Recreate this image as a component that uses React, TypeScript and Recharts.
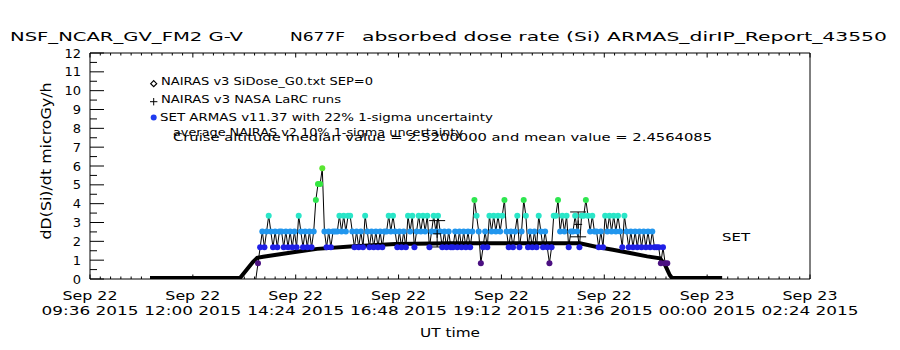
import React from 'react';
import { ComposedChart, Line, Scatter, ErrorBar, XAxis, YAxis, ReferenceArea } from 'recharts';

// x axis: UT hours since Sep 22 00:00
const majorTimes = [9.6, 12, 14.4, 16.8, 19.2, 21.6, 24, 26.4];
const dayLabels = ['Sep 22', 'Sep 22', 'Sep 22', 'Sep 22', 'Sep 22', 'Sep 22', 'Sep 23', 'Sep 23'];
const clockLabels = ['09:36 2015', '12:00 2015', '14:24 2015', '16:48 2015', '19:12 2015', '21:36 2015', '00:00 2015', '02:24 2015'];
const doseLabels = [0, 1, 2, 3, 4, 5, 6, 7, 8, 9, 10, 11, 12];

// NAIRAS v3 model along the flight track
const nairasTime = [11.0, 13.1, 13.26, 13.4, 13.5, 13.64, 14.34, 14.9, 15.67, 16.72, 18.0, 19.98, 21.03, 21.43, 21.8, 22.2, 22.6, 22.9, 23.02, 23.13, 23.18, 24.35];
const nairasDose = [0.05, 0.05, 0.5, 0.9, 1.12, 1.18, 1.42, 1.6, 1.72, 1.86, 1.9, 1.9, 1.9, 1.7, 1.55, 1.38, 1.2, 1.1, 0.74, 0.2, 0.05, 0.05];

// ARMAS SET measurements, one sample every 3 minutes
const armasStart = 13.47;
const armasStep = 0.05;
const armasDose = [
  0.0, 0.84, 1.68, 2.52, 1.68, 2.52, 3.36, 2.52, 1.68, 2.52, 1.68, 2.52, 2.52, 1.68, 2.52, 1.68,
  2.52, 1.68, 2.52, 1.68, 3.36, 2.52, 1.68, 2.52, 1.68, 2.52, 1.68, 2.52, 4.2, 5.04, 5.04, 5.88,
  2.52, 1.68, 2.52, 1.68, 2.52, 2.52, 2.52, 3.36, 2.52, 3.36, 2.52, 3.36, 3.36, 2.52, 1.68, 2.52,
  1.68, 2.52, 1.68, 3.36, 2.52, 1.68, 2.52, 1.68, 2.52, 1.68, 2.52, 1.68, 2.52, 2.52, 3.36, 2.52,
  3.36, 2.52, 1.68, 2.52, 1.68, 2.52, 1.68, 3.36, 2.52, 3.36, 1.68, 2.52, 3.36, 2.52, 3.36, 2.52,
  3.36, 1.68, 2.52, 3.36, 2.52, 3.36, 2.52, 1.68, 2.52, 1.68, 2.52, 1.68, 1.68, 2.52, 1.68, 2.52,
  1.68, 2.52, 1.68, 2.52, 1.68, 2.52, 4.2, 3.36, 2.52, 0.84, 1.68, 2.52, 1.68, 3.36, 2.52, 3.36,
  2.52, 3.36, 2.52, 3.36, 4.2, 2.52, 1.68, 2.52, 1.68, 2.52, 3.36, 1.68, 2.52, 4.2, 3.36, 1.68,
  2.52, 1.68, 2.52, 1.68, 3.36, 2.52, 1.68, 2.52, 1.68, 0.84, 1.68, 3.36, 3.36, 4.2, 2.52, 3.36,
  2.52, 3.36, 1.68, 2.52, 2.52, 3.36, 2.52, 1.68, 3.36, 3.36, 4.2, 3.36, 2.52, 3.36, 2.52, 2.52,
  1.68, 2.52, 1.68, 3.36, 2.52, 3.36, 2.52, 3.36, 2.52, 3.36, 2.52, 1.68, 3.36, 2.52, 1.68, 2.52,
  1.68, 2.52, 1.68, 2.52, 1.68, 2.52, 1.68, 2.52, 1.68, 2.52, 1.68, 1.68, 1.68, 0.84, 1.68, 0.84,
  0.84,
];

// NAIRAS v3 NASA LaRC runs
const larcTime = [17.7, 20.99];
const larcDose = [2.4, 2.9];
const larcErr = [0.7, 0.66];

const levelValues = [0.84, 1.68, 2.52, 3.36, 4.2, 5.04, 5.88];
const levelColors = ['#4b1082', '#1f1fe6', '#2196ee', '#2ae6c8', '#2ee650', '#34e640', '#5ae632'];

const PLOT = { left: 90, right: 810, top: 53, bottom: 279 };
const FONT = 'DejaVu Sans, sans-serif';

const xTicks: number[] = [];
majorTimes.forEach((t, i) => {
  xTicks.push(t);
  if (i < majorTimes.length - 1) {
    for (let k = 1; k < 10; k++) xTicks.push(Math.round((t + (k * (majorTimes[i + 1] - t)) / 10) * 1000) / 1000);
  }
});
const yTicks: number[] = [];
doseLabels.forEach((d, i) => {
  yTicks.push(d);
  if (i < doseLabels.length - 1) yTicks.push(d + 0.5);
});

const nairasData = nairasTime.map((t, i) => ({ time: t, dose: nairasDose[i] }));
const armasData = armasDose.map((d, i) => ({ time: Math.round((armasStart + i * armasStep) * 1000) / 1000, dose: d }));
const larcData = larcTime.map((t, i) => ({ time: t, dose: larcDose[i], err: larcErr[i] }));

function colorFor(v: number) {
  let best = 0;
  levelValues.forEach((l, i) => {
    if (Math.abs(l - v) < Math.abs(levelValues[best] - v)) best = i;
  });
  return levelColors[best];
}

function XTick(props: any) {
  const { x, payload } = props;
  const idx = majorTimes.findIndex((t) => Math.abs(t - payload.value) < 1e-6);
  const len = idx >= 0 ? 4.5 : 2.5;
  return (
    <g>
      <line x1={x} x2={x} y1={PLOT.bottom} y2={PLOT.bottom - len} stroke="#000" />
      <line x1={x} x2={x} y1={PLOT.top} y2={PLOT.top + len} stroke="#000" />
      {idx >= 0 && (
        <g fontFamily={FONT} fontSize={13} fill="#000">
          <text x={x} y={300} textAnchor="middle" textLength={55} lengthAdjust="spacingAndGlyphs">{dayLabels[idx]}</text>
          <text x={x} y={315} textAnchor="middle" textLength={97} lengthAdjust="spacingAndGlyphs">{clockLabels[idx]}</text>
        </g>
      )}
    </g>
  );
}

function YTick(props: any) {
  const { y, payload } = props;
  const major = Number.isInteger(payload.value);
  return (
    <g>
      <line x1={PLOT.left} x2={PLOT.left + (major ? 14 : 7)} y1={y} y2={y} stroke="#000" />
      {major && (
        <text x={81} y={y + 4.5} textAnchor="end" fontFamily={FONT} fontSize={13} fill="#000">{payload.value}</text>
      )}
    </g>
  );
}

function ArmasDot(props: any) {
  const { cx, cy, payload, index } = props;
  if (payload.dose <= 0) return <g key={`a${index}`} />;
  return <circle key={`a${index}`} cx={cx} cy={cy} r={3} fill={colorFor(payload.dose)} stroke="none" />;
}

function PlusShape(props: any) {
  const { cx, cy } = props;
  return <path d={`M${cx - 4},${cy}H${cx + 4}M${cx},${cy - 4}V${cy + 4}`} stroke="#000" strokeWidth={1} />;
}

export default function App() {
  return (
    <div style={{ position: 'absolute', left: 0, top: 0, width: 900, height: 350, background: '#fff' }}>
      <ComposedChart width={900} height={350} margin={{ top: PLOT.top, right: 900 - PLOT.right, bottom: 0, left: 0 }}>
        <XAxis
          dataKey="time"
          type="number"
          domain={[9.6, 26.4]}
          ticks={xTicks}
          interval={0}
          allowDataOverflow
          axisLine={false}
          tickLine={false}
          height={350 - PLOT.bottom}
          tick={(p: any) => <XTick {...p} />}
        />
        <YAxis
          type="number"
          domain={[0, 12]}
          ticks={yTicks}
          interval={0}
          allowDataOverflow
          axisLine={false}
          tickLine={false}
          width={PLOT.left}
          tick={(p: any) => <YTick {...p} />}
        />
        <ReferenceArea x1={9.6} x2={26.4} y1={0} y2={12} fill="none" fillOpacity={0} stroke="#000" strokeWidth={1} ifOverflow="visible" />
        <Line data={armasData} dataKey="dose" stroke="#000" strokeWidth={1} dot={(p: any) => <ArmasDot {...p} />} activeDot={false} isAnimationActive={false} type="linear" />
        <Line data={nairasData} dataKey="dose" stroke="#000" strokeWidth={4} dot={false} activeDot={false} isAnimationActive={false} type="linear" />
        <Scatter data={larcData} dataKey="dose" shape={(p: any) => <PlusShape {...p} />} isAnimationActive={false}>
          <ErrorBar dataKey="err" direction="y" width={8} stroke="#000" strokeWidth={1} />
        </Scatter>
      </ComposedChart>
      <svg width={900} height={350} style={{ position: 'absolute', left: 0, top: 0, pointerEvents: 'none' }} fontFamily={FONT} fill="#000">
        <text x={10} y={41} fontSize={13} textLength={233} lengthAdjust="spacingAndGlyphs">NSF_NCAR_GV_FM2 G-V</text>
        <text x={290} y={41} fontSize={13} textLength={55} lengthAdjust="spacingAndGlyphs">N677F</text>
        <text x={362} y={41} fontSize={13} textLength={525} lengthAdjust="spacingAndGlyphs">absorbed dose rate (Si) ARMAS_dirIP_Report_43550</text>
        <text transform="translate(51,161) rotate(-90)" textAnchor="middle" fontSize={14} textLength={157} lengthAdjust="spacingAndGlyphs">dD(Si)/dt microGy/h</text>
        <text x={450} y={337} textAnchor="middle" fontSize={13} textLength={60} lengthAdjust="spacingAndGlyphs">UT time</text>
        <text x={722} y={241} fontSize={10} textLength={28} lengthAdjust="spacingAndGlyphs">SET</text>
        <path d="M153.7,80.7L156.7,83.7L153.7,86.7L150.7,83.7Z" fill="none" stroke="#000" strokeWidth={1.2} />
        <path d="M150,101.7H157.4M153.7,98V105.4" stroke="#000" strokeWidth={1} />
        <circle cx={153.7} cy={117.5} r={3} fill="#1f3cf0" />
        <g fontSize={11}>
          <text x={161} y={85} textLength={212} lengthAdjust="spacingAndGlyphs">NAIRAS v3 SiDose_G0.txt SEP=0</text>
          <text x={161} y={103} textLength={180} lengthAdjust="spacingAndGlyphs">NAIRAS v3 NASA LaRC runs</text>
          <text x={160} y={121} textLength={333} lengthAdjust="spacingAndGlyphs">SET ARMAS v11.37 with 22% 1-sigma uncertainty</text>
          <text x={173} y={136} textLength={290} lengthAdjust="spacingAndGlyphs">average NAIRAS v2 10% 1-sigma uncertainty</text>
          <text x={173} y={141} textLength={539} lengthAdjust="spacingAndGlyphs">Cruise altitude median value = 2.5200000 and mean value = 2.4564085</text>
        </g>
      </svg>
    </div>
  );
}
